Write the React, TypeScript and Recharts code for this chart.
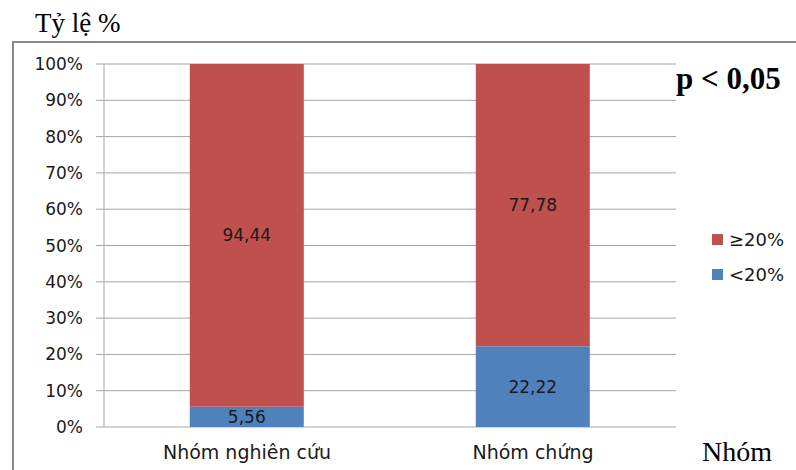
import React from "react";
import { BarChart, Bar, XAxis, YAxis, CartesianGrid, Legend, LabelList } from "recharts";

const groups = ["Nhóm nghiên cứu", "Nhóm chứng"];
const below20 = [5.56, 22.22];
const above20 = [94.44, 77.78];
const yTicks = [0, 10, 20, 30, 40, 50, 60, 70, 80, 90, 100];

const data = groups.map((g, i) => ({ group: g, lt: below20[i], ge: above20[i] }));

const sans = "'DejaVu Sans', sans-serif";
const serif = "'Liberation Serif', 'Times New Roman', serif";
const gridColor = "#a6a6a6";
const fmt = (v: any) => String(v).replace(".", ",");

function LegendBox({ payload }: any) {
  const items = [...(payload || [])].reverse();
  return (
    <div style={{ fontFamily: sans, fontSize: 18, color: "#1a1a1a" }}>
      {items.map((it: any) => (
        <div key={it.value} style={{ display: "flex", alignItems: "center", height: 35 }}>
          <span style={{ width: 11, height: 11, background: it.color, marginRight: 6, display: "inline-block" }} />
          <span>{it.value}</span>
        </div>
      ))}
    </div>
  );
}

export default function App() {
  return (
    <div style={{ position: "absolute", left: 0, top: 0, width: 796, height: 470, background: "#fff", overflow: "hidden" }}>
      <div
        style={{
          position: "absolute",
          left: 12,
          top: 41,
          width: 790,
          height: 440,
          borderLeft: "2px solid #888",
          borderTop: "2px solid #888",
        }}
      />
      <div style={{ position: "absolute", left: 0, top: 0 }}>
        <BarChart
          width={796}
          height={470}
          data={data}
          margin={{ top: 64, right: 120, bottom: 0, left: 0 }}
          barCategoryGap="30%"
        >
          <CartesianGrid vertical={false} stroke={gridColor} />
          <XAxis
            xAxisId="edges"
            type="number"
            domain={[0, 2]}
            ticks={[0, 1, 2]}
            height={0}
            stroke={gridColor}
            tickSize={6}
            tickFormatter={() => ""}
          />
          <XAxis
            dataKey="group"
            height={43}
            axisLine={false}
            tickLine={false}
            tickSize={6}
            tickMargin={13}
            tick={{ fontFamily: sans, fontSize: 19, fill: "#1a1a1a" }}
          />
          <YAxis
            width={104}
            domain={[0, 100]}
            ticks={yTicks}
            tickFormatter={(v) => `${v}%`}
            stroke={gridColor}
            tickSize={8}
            tickMargin={13}
            tick={{ fontFamily: sans, fontSize: 17, fill: "#1a1a1a" }}
          />
          <Legend
            layout="vertical"
            align="center"
            verticalAlign="middle"
            content={<LegendBox />}
            wrapperStyle={{ position: "absolute", left: 712, top: 222, width: 84 }}
          />
          <Bar dataKey="lt" name="<20%" stackId="a" fill="#4F81BD" isAnimationActive={false}>
            <LabelList dataKey="lt" position="center" formatter={fmt} fill="#1a1a1a" fontSize={17} fontFamily={sans} />
          </Bar>
          <Bar dataKey="ge" name="≥20%" stackId="a" fill="#C0504D" isAnimationActive={false}>
            <LabelList dataKey="ge" position="center" formatter={fmt} fill="#1a1a1a" fontSize={17} fontFamily={sans} />
          </Bar>
        </BarChart>
      </div>
      <svg width={796} height={470} style={{ position: "absolute", left: 0, top: 0, pointerEvents: "none" }}>
        <text x={35} y={32} fontFamily={serif} fontSize={27} fill="#000">Tỷ lệ %</text>
        <text x={676} y={89} fontFamily={serif} fontSize={31} fontWeight="bold" fill="#000">p &lt; 0,05</text>
        <text x={702} y={461} fontFamily={serif} fontSize={28} fill="#000">Nhóm</text>
      </svg>
    </div>
  );
}
